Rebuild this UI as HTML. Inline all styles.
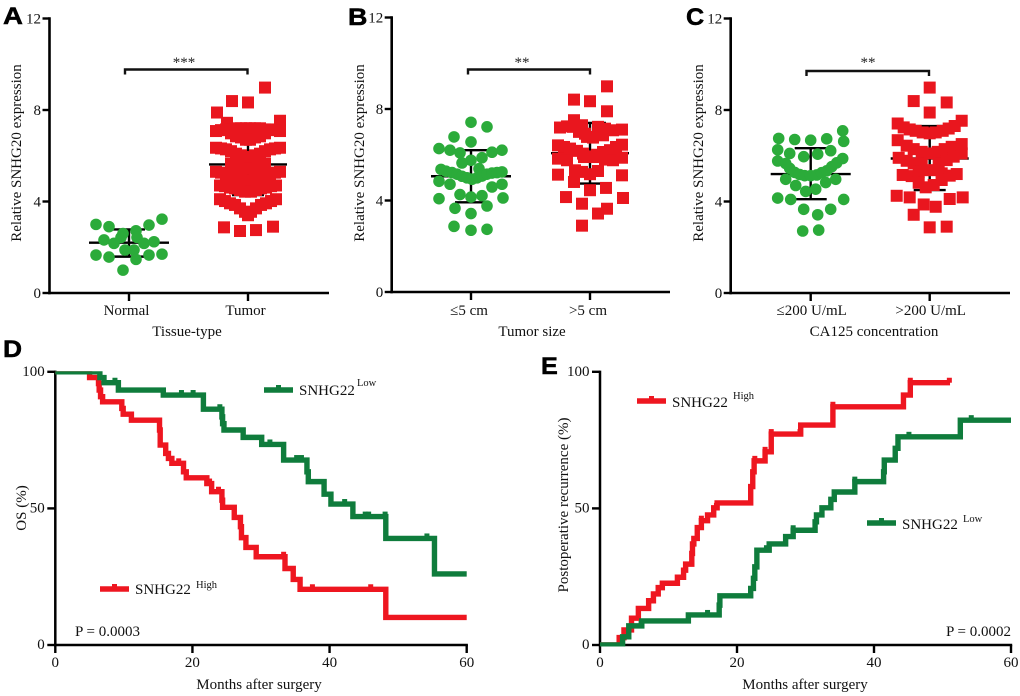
<!DOCTYPE html>
<html lang="en">
<head>
<meta charset="utf-8">
<title>SNHG20 expression and survival figure</title>
<style>
html,body{margin:0;padding:0;background:#fff;}
svg{display:block;}
text{font-family:"Liberation Serif",serif;fill:#111;}
.lbl{font-size:15px;}
.sup{font-size:10.5px;}
.letter{font-family:"Liberation Sans",sans-serif;font-weight:bold;font-size:24px;fill:#000;stroke:#000;stroke-width:.5px;}
.star{font-size:15px;fill:#222;}
</style>
</head>
<body>
<svg id="fig" xmlns="http://www.w3.org/2000/svg" width="1020" height="696" viewBox="0 0 1020 696">
  <defs>
    <clipPath id="kmClip"><rect x="0" y="371.3" width="1020" height="275.2"/></clipPath>
  </defs>

  <g id="panelA">
    <text class="lbl" text-anchor="middle" transform="translate(21,153) rotate(-90)">Relative SNHG20 expression</text>
    <text class="lbl" x="187" y="336" text-anchor="middle">Tissue-type</text>
    <text class="star" x="184" y="67" text-anchor="middle">***</text>
  </g>
  <g id="panelB">
    <text class="lbl" text-anchor="middle" transform="translate(364,153) rotate(-90)">Relative SNHG20 expression</text>
    <text class="lbl" x="532" y="336" text-anchor="middle">Tumor size</text>
    <text class="star" x="522" y="67" text-anchor="middle">**</text>
  </g>
  <g id="panelC">
    <text class="lbl" text-anchor="middle" transform="translate(703,153) rotate(-90)">Relative SNHG20 expression</text>
    <text class="lbl" x="874" y="336" text-anchor="middle">CA125 concentration</text>
    <text class="star" x="868" y="67" text-anchor="middle">**</text>
  </g>
  <g id="panelD">
    <text class="lbl" text-anchor="middle" transform="translate(26,508) rotate(-90)">OS (%)</text>
    <text class="lbl" x="259" y="689" text-anchor="middle">Months after surgery</text>
    <text class="lbl" x="75" y="636">P = 0.0003</text>
    <g>
      <text class="lbl" x="299" y="395">SNHG22</text>
      <text class="sup" x="357" y="386">Low</text>
    </g>
    <g>
      <text class="lbl" x="135" y="594">SNHG22</text>
      <text class="sup" x="196" y="588">High</text>
    </g>
  </g>
  <g id="panelE">
    <text class="lbl" text-anchor="middle" transform="translate(568,505) rotate(-90)">Postoperative recurrence (%)</text>
    <text class="lbl" x="805" y="689" text-anchor="middle">Months after surgery</text>
    <text class="lbl" x="1011" y="636" text-anchor="end">P = 0.0002</text>
    <g>
      <text class="lbl" x="672" y="407">SNHG22</text>
      <text class="sup" x="733" y="399">High</text>
    </g>
    <g>
      <text class="lbl" x="902" y="529">SNHG22</text>
      <text class="sup" x="963" y="522">Low</text>
    </g>
  </g>

  <text class="letter" transform="translate(3,24) scale(1.15,1)">A</text>
  <text class="letter" transform="translate(348,25) scale(1.12,1)">B</text>
  <text class="letter" transform="translate(686,25) scale(1.05,1)">C</text>
  <text class="letter" transform="translate(3,357) scale(1.1,1)">D</text>
  <text class="letter" transform="translate(541,374) scale(1.05,1)">E</text>
</svg>

<script>
/* ---------- scatter data ---------- */
var scatterTicks = [0, 4, 8, 12];

var catA = ["Normal", "Tumor"];
var aNormalValues = [3.0,2.9,2.97,3.23,2.6,2.72,2.43,2.32,2.17,2.43,2.17,2.24,1.88,1.88,1.66,1.57,1.47,1.66,1.7,1.0];
var aNormalJitter = [-33,-20,20,33,-6,7,-8,-25,-15,8,15,25,-4,5,-33,-20,7,20,33,-6];
var aTumorValues = [8.98,8.39,8.33,7.89,7.44,7.53,
  7.08,7.08,7.12,7.12,7.15,7.15,7.15,7.15,7.2,7.2,7.2,7.2,7.2,7.2,
  6.98,6.98,6.85,6.85,6.8,6.8,6.7,6.7,
  6.35,6.35,6.32,6.32,6.28,6.28,6.2,6.2,6.09,6.09,6.02,6.02,5.95,5.95,
  5.66,5.66,5.59,5.59,5.52,5.52,5.45,5.45,
  5.3,5.3,5.26,5.26,5.2,5.2,5.15,5.15,5.08,5.08,5.01,5.01,4.93,4.93,
  4.7,4.7,4.67,4.67,4.61,4.61,4.57,4.57,4.5,4.5,4.43,4.43,
  4.1,4.1,4.02,4.02,3.92,3.92,3.85,3.85,3.7,3.7,3.55,3.55,3.4,
  2.87,2.71,2.75,2.9];
var aTumorJitter = [17,-16,0,-31,-21,32,
  -32,32,-27,27,-22,22,-17,17,-12,12,-7,7,-2,2,
  -17,17,-12,12,-7,7,-2,2,
  -32,32,-27,27,-22,22,-17,17,-12,12,-7,7,-2,2,
  -17,17,-12,12,-7,7,-2,2,
  -32,32,-27,27,-22,22,-17,17,-12,12,-7,7,-2,2,
  -28,28,-23,23,-18,18,-13,13,-8,8,-3,3,
  -28,28,-23,23,-18,18,-13,13,-8,8,-3,3,0,
  -24,-8,8,25];
var aMeans = [2.2, 5.62];
var aSdHigh = [2.78, 6.9];
var aSdLow = [1.59, 4.28];

var catB = ["\u22645 cm", ">5 cm"];
var bLowValues = [7.42,7.22,6.78,6.56,6.27,6.2,6.08,6.11,6.2,5.87,5.76,5.64,5.39,
  5.36,5.28,5.22,5.15,5.06,4.99,4.93,4.99,5.07,5.15,5.2,5.22,5.25,
  4.84,4.71,4.59,4.71,4.26,4.15,4.21,4.08,4.11,3.66,3.76,3.43,2.87,2.7,2.74];
var bLowJitter = [0,16,-17,0,-32,-21,-11,21,31,11,0,-9,8,
  -30,-25,-19,-14,-9,-4,1,6,11,16,21,26,31,
  -32,-21,21,31,-11,0,11,-32,32,-16,16,0,-17,0,16];
var bHighValues = [8.99,8.41,8.34,7.9,7.51,
  7.19,7.24,7.22,7.29,7.22,7.14,7.07,7.1,6.78,6.75,7.0,7.0,6.92,6.85,
  6.41,6.34,6.27,6.17,6.05,5.93,6.0,6.12,6.2,6.34,6.44,
  5.83,5.76,5.79,5.76,5.87,5.9,5.9,
  5.32,5.25,5.15,5.29,5.13,5.1,4.81,4.45,4.55,
  4.15,4.11,3.86,3.43,3.64,2.9];
var bHighJitter = [17,-16,0,17,-16,
  -30,-23,-17,-8,8,15,23,32,-3,3,8,-11,-5,13,
  -32,-26,-20,-13,-7,0,7,13,20,26,32,
  -32,-23,15,23,32,6,-6,
  -15,-8,0,8,-32,32,-16,0,16,
  -24,33,-8,8,17,-8];
var bMeans = [5.06, 6.07];
var bSdHigh = [6.2, 7.39];
var bSdLow = [3.92, 4.74];

var catC = ["\u2264200 U/mL", ">200 U/mL"];
var cLowValues = [7.09,6.76,6.71,6.68,6.74,6.63,6.26,6.1,6.22,5.96,6.07,5.88,5.77,5.66,
  5.45,5.27,5.18,5.13,5.13,5.16,5.26,5.34,5.52,5.69,
  4.97,4.7,4.83,4.97,4.44,4.54,4.15,4.09,4.09,3.66,3.66,3.42,2.71,2.75];
var cLowJitter = [32,-32,-16,0,16,33,-33,-21,20,-7,7,32,-33,-25,
  -21,-16,-11,-6,0,6,11,16,21,26,
  -25,-15,15,25,-5,5,-33,-20,33,-7,20,7,-8,8];
var cHighValues = [8.98,8.39,8.33,7.89,
  7.41,7.24,7.15,7.09,7.02,6.98,7.02,7.09,7.19,7.3,7.53,
  6.68,6.44,6.29,6.17,6.1,6.17,6.29,6.39,6.51,6.1,
  5.91,5.78,5.66,5.66,5.66,5.81,5.96,
  5.16,5.11,5.3,5.37,5.37,5.23,5.13,5.2,
  4.82,4.62,4.72,4.94,
  4.25,4.18,3.87,3.77,4.11,4.18,3.42,2.87,2.9];
var cHighJitter = [0,-16,17,0,
  -32,-26,-20,-14,-7,0,6,13,19,25,32,
  -32,-23,-16,-8,0,8,15,22,32,32,
  -31,-23,-16,-8,9,17,24,
  -27,-18,-11,-5,5,12,20,27,
  -11,-4,4,12,
  -33,-20,-6,6,20,33,-16,0,17];
var cMeans = [5.2, 5.88];
var cSdHigh = [6.33, 7.3];
var cSdLow = [4.1, 4.5];

/* ---------- survival data ---------- */
var kmXTicks = [0, 20, 40, 60];
var kmYTicks = [0, 50, 100];

var dLowMonths = [0,6.5,7.1,9.2,15.75,21.6,24.3,24.4,24.6,27.4,30.1,33.3,36.7,36.9,39.2,40.2,43.4,48.2,55.3,60];
var dLowPercent = [100,97.9,96,93.3,91.5,86.3,83.5,81,78.7,76,73.4,67.7,63.4,59.8,55.2,51.6,47,39,26,26];
var dLowCensor = [8.7,18.4,20.1,24,31.3,35.2,35.9,42.2,45.2,45.7,48.1,54.2];

var dHighMonths = [0,5,6.3,6.4,6.6,6.9,9.7,9.9,11.1,15.2,15.3,16.1,16.5,17,18.7,19.1,22.1,22.8,24.3,24.4,26.1,27,27.15,27.8,29.3,33.5,34.7,35.7,48.2,60];
var dHighPercent = [100,97.9,95.7,93.3,90.9,89,86.6,84.5,82.3,78.7,73.2,70.1,68.3,66.5,63.4,61.2,59.1,56.1,53,50.4,46.7,43.3,39.3,35.7,32.3,28,24,20.4,10.1,10.1];
var dHighCensor = [18,22.5,23.8,33.3,37.5,46];

var eHighMonths = [0,2.8,3.5,4.6,5.6,7.1,7.8,8.5,9.1,11.3,12.2,12.5,13.4,13.5,13.7,14.2,14.8,15.7,16.6,17.1,22,22.3,22.5,24.1,25,29.3,34,44.3,45.3,51.1];
var eHighPercent = [0,2.7,5.5,9.8,13.4,16.2,18.7,21,22.6,24.8,27.4,29.6,33.5,37,39,43,45.5,47.6,50.2,52,58,63.4,67.4,70.7,77.2,80.5,87.2,91.5,96,96];
var eHighCensor = [14.8,17,22.6,24.1,25,29.2,34,45.3,51];

var eLowMonths = [0,3.3,4.2,6.1,12.9,17.4,17.5,22,22.4,22.6,22.9,24.7,27.1,28.2,31.4,31.6,32.4,33.7,34.2,37.2,41.4,41.5,43.1,43.5,52.6,60];
var eLowPercent = [0,3,7,8.8,11,14.6,18,20.7,24.4,28.6,34.7,37,39.7,42,45.1,47.6,50.2,53.3,56,59.8,63.4,67.7,72,76.2,82.3,82.3];
var eLowCensor = [6,15.7,24.3,28.2,37.2,45.1,54.2];

/* ---------- drawing helpers ---------- */
var NS = "http://www.w3.org/2000/svg";
var GREEN = "#2bab3a", RED = "#e9161e", KM_GREEN = "#0f7c3c", KM_RED = "#ee1620";

function el(parent, tag, attrs) {
  var e = document.createElementNS(NS, tag);
  for (var k in attrs) e.setAttribute(k, attrs[k]);
  parent.appendChild(e);
  return e;
}
function line(parent, x1, y1, x2, y2, w, color) {
  return el(parent, "line", {x1: x1, y1: y1, x2: x2, y2: y2, stroke: color || "#000", "stroke-width": w});
}
function label(parent, x, y, txt, anchor) {
  var t = el(parent, "text", {x: x, y: y, "text-anchor": anchor, "class": "lbl"});
  t.textContent = txt;
  return t;
}

function drawScatter(id, geo, cats, groups, means, hi, lo, bracketY, widths) {
  var g = document.getElementById(id);
  function yScale(v) { return geo.y0 - v * (geo.y0 - geo.y12) / 12; }
  function xScale(i) { return geo.x1 + i * (geo.x2 - geo.x1); }

  var axes = el(g, "g", {});
  
  
  var yAxis = line(axes, geo.ax, geo.y12 - 1.2, geo.ax, geo.y0 + 1.3, 2.6);
  
  
  var xAxis = line(axes, geo.ax - 1.3, geo.y0, geo.right, geo.y0, 2.6);
  
  

  scatterTicks.forEach(function (v) {
    var y = yScale(v);
    var tick = line(axes, geo.ax - 7, y, geo.ax, y, 2.4);
    
    
    var t = label(axes, geo.ax - 8.5, y + 5, String(v), "end");
    
    
  });
  cats.forEach(function (c, i) {
    var x = xScale(i);
    var tick = line(axes, x, geo.y0, x, geo.y0 + 8, 2.4);
    
    
    var t = label(axes, x - (geo.labelShift || 0), 315, c, "middle");
    
    
  });

  var br = el(g, "path", {
    d: "M" + geo.b1 + " " + (bracketY + 5) + "V" + bracketY + "H" + geo.b2 + "V" + (bracketY + 5),
    fill: "none", stroke: "#111", "stroke-width": 2.4
  });
  
  

  groups.forEach(function (grp, i) {
    var cx = xScale(i);
    var eb = el(g, "g", {});
    
    
    line(eb, cx - widths[i], yScale(means[i]), cx + widths[i], yScale(means[i]), 2.4);
    line(eb, cx, yScale(hi[i]), cx, yScale(lo[i]), 2.4);
    line(eb, cx - 16, yScale(hi[i]), cx + 16, yScale(hi[i]), 2.4);
    line(eb, cx - 16, yScale(lo[i]), cx + 16, yScale(lo[i]), 2.4);

    var pts = el(g, "g", {});
    
    
    grp.values.forEach(function (v, k) {
      var px = cx + grp.jitter[k];
      var py = yScale(v);
      var m;
      if (grp.shape === "circle") {
        m = el(pts, "circle", {cx: px, cy: py, r: 5.8, fill: GREEN});
        
      } else {
        m = el(pts, "rect", {x: px - 6, y: py - 6, width: 12, height: 12, fill: RED});
        
      }
      
    });
  });
}

function stepAt(months, pct, m) {
  var v = pct[0];
  for (var i = 0; i < months.length; i++) { if (months[i] <= m) v = pct[i]; }
  return v;
}

function drawKM(id, geo, series, legends) {
  var g = document.getElementById(id);
  function xScale(m) { return geo.x0 + m * (geo.x60 - geo.x0) / 60; }
  function yScale(p) { return geo.y0 - p * (geo.y0 - geo.y100) / 100; }

  var axes = el(g, "g", {});
  
  
  var yAxis = line(axes, geo.x0, geo.y100 - 1.2, geo.x0, geo.y0 + 1.2, 2.5);
  
  
  var xAxis = line(axes, geo.x0 - 1.2, geo.y0, geo.x60 + 1.2, geo.y0, 2.5);
  
  
  kmYTicks.forEach(function (v) {
    var y = yScale(v);
    var tick = line(axes, geo.x0 - 8, y, geo.x0, y, 2.4);
    
    
    var t = label(axes, geo.x0 - 10.5, y + 4, String(v), "end");
    
    
  });
  kmXTicks.forEach(function (v) {
    var x = xScale(v);
    var tick = line(axes, x, geo.y0, x, geo.y0 + 8, 2.4);
    
    
    var t = label(axes, x, 667, String(v), "middle");
    
    
  });

  series.forEach(function (s) {
    var sg = el(g, "g", {"clip-path": "url(#kmClip)"});
    
    
    var d = "M" + xScale(s.months[0]) + " " + yScale(s.pct[0]);
    for (var i = 1; i < s.months.length; i++) {
      d += "H" + xScale(s.months[i]) + "V" + yScale(s.pct[i]);
    }
    var p = el(sg, "path", {d: d, fill: "none", stroke: s.color, "stroke-width": 5.4, "stroke-linejoin": "miter"});
    
    
    s.censor.forEach(function (m) {
      var x = xScale(m);
      var y = yScale(stepAt(s.months, s.pct, m));
      var c = line(sg, x, y - 5, x, y, 5, s.color);
      
      
    });
  });

  legends.forEach(function (l) {
    var lg = el(g, "g", {});
    
    
    line(lg, l.x, l.y, l.x + 29, l.y, 5.4, l.color);
    line(lg, l.x + 14.5, l.y - 5, l.x + 14.5, l.y + 2, 5, l.color);
  });
}

/* ---------- render ---------- */
drawScatter("panelA",
  {ax: 49.5, y0: 293, y12: 18.5, right: 329, x1: 129, x2: 248, b1: 125, b2: 247.5, labelShift: 2.5},
  catA,
  [{shape: "circle", values: aNormalValues, jitter: aNormalJitter},
   {shape: "square", values: aTumorValues, jitter: aTumorJitter}],
  aMeans, aSdHigh, aSdLow, 69.5, [40, 39]);

drawScatter("panelB",
  {ax: 391.7, y0: 292, y12: 17.5, right: 670, x1: 471, x2: 590, b1: 468, b2: 590, labelShift: 2},
  catB,
  [{shape: "circle", values: bLowValues, jitter: bLowJitter},
   {shape: "square", values: bHighValues, jitter: bHighJitter}],
  bMeans, bSdHigh, bSdLow, 69.5, [40, 39]);

drawScatter("panelC",
  {ax: 730.7, y0: 293, y12: 18.5, right: 1010, x1: 810.7, x2: 929.7, b1: 806.5, b2: 929, labelShift: -1},
  catC,
  [{shape: "circle", values: cLowValues, jitter: cLowJitter},
   {shape: "square", values: cHighValues, jitter: cHighJitter}],
  cMeans, cSdHigh, cSdLow, 71, [40, 39]);

drawKM("panelD",
  {x0: 55.3, x60: 466.7, y0: 645, y100: 371.8},
  [{name: "series-high-d", color: KM_RED, months: dHighMonths, pct: dHighPercent, censor: dHighCensor},
   {name: "series-low-d", color: KM_GREEN, months: dLowMonths, pct: dLowPercent, censor: dLowCensor}],
  [{x: 264, y: 390, color: KM_GREEN}, {x: 100, y: 589, color: KM_RED}]);

drawKM("panelE",
  {x0: 600, x60: 1011, y0: 645, y100: 371.8},
  [{name: "series-high-e", color: KM_RED, months: eHighMonths, pct: eHighPercent, censor: eHighCensor},
   {name: "series-low-e", color: KM_GREEN, months: eLowMonths, pct: eLowPercent, censor: eLowCensor}],
  [{x: 637, y: 401, color: KM_RED}, {x: 867, y: 523, color: KM_GREEN}]);
</script>
</body>
</html>
